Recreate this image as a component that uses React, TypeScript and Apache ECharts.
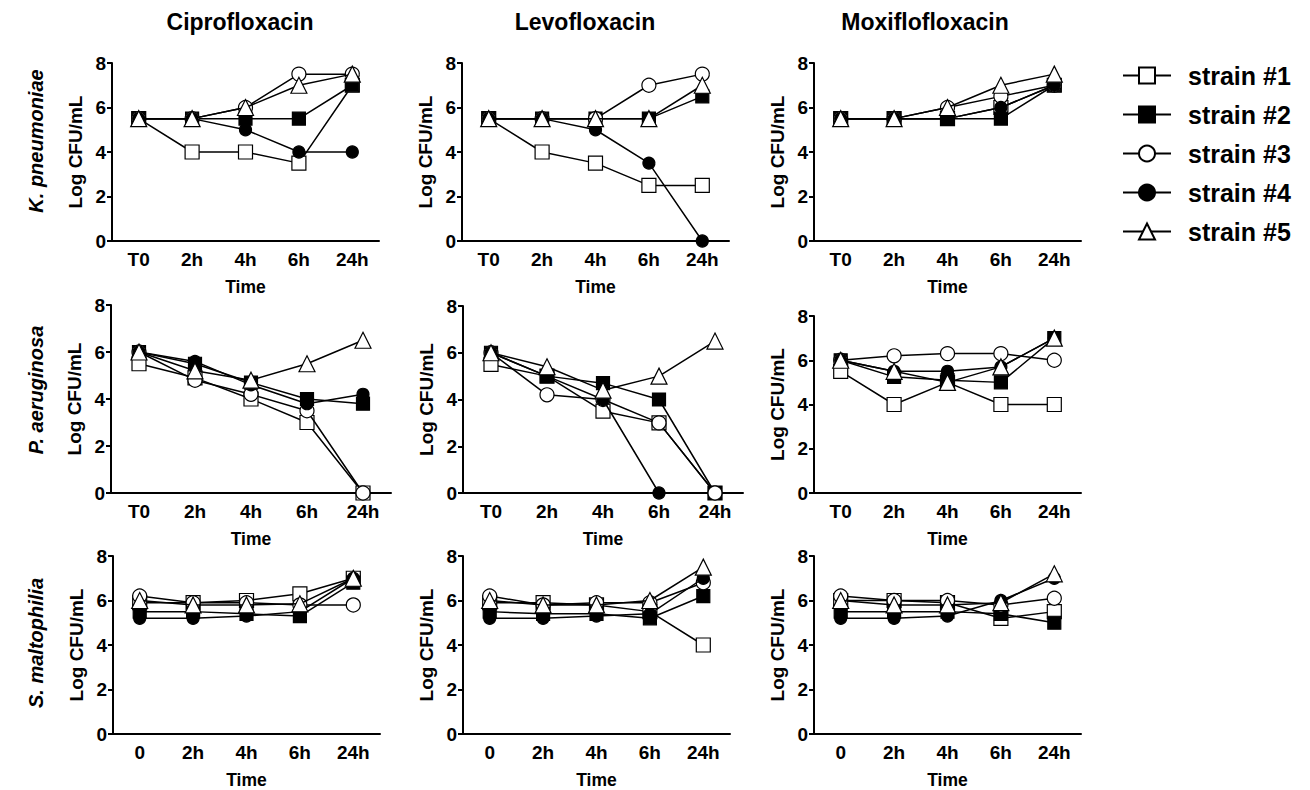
import React, { useEffect, useRef } from "react";
import * as echarts from "echarts";

const drugs = ["Ciprofloxacin", "Levofloxacin", "Moxiflofloxacin"];
const species = ["K. pneumoniae", "P. aeruginosa", "S. maltophilia"];
const strains = ["strain #1", "strain #2", "strain #3", "strain #4", "strain #5"];
const timesT0 = ["T0", "2h", "4h", "6h", "24h"];
const times0 = ["0", "2h", "4h", "6h", "24h"];

// K. pneumoniae
const kpCipro = [
  [5.5, 4, 4, 3.5, 7],
  [5.5, 5.5, 5.5, 5.5, 7],
  [5.5, 5.5, 6, 7.5, 7.5],
  [5.5, 5.5, 5, 4, 4],
  [5.5, 5.5, 6, 7, 7.5],
];
const kpLevo = [
  [5.5, 4, 3.5, 2.5, 2.5],
  [5.5, 5.5, 5.5, 5.5, 6.5],
  [5.5, 5.5, 5.5, 7, 7.5],
  [5.5, 5.5, 5, 3.5, 0],
  [5.5, 5.5, 5.5, 5.5, 7],
];
const kpMoxi = [
  [5.5, 5.5, 5.5, 6, 7],
  [5.5, 5.5, 5.5, 5.5, 7],
  [5.5, 5.5, 6, 6.5, 7],
  [5.5, 5.5, 5.5, 6, 7],
  [5.5, 5.5, 6, 7, 7.5],
];
// P. aeruginosa
const paCipro = [
  [5.5, 4.9, 4.0, 3.0, 0],
  [6, 5.5, 4.7, 4.0, 3.8],
  [6, 4.8, 4.2, 3.5, 0],
  [6, 5.6, 4.6, 3.8, 4.2],
  [6, 5.2, 4.8, 5.5, 6.5],
];
const paLevo = [
  [5.5, 5.0, 3.5, 3.0, 0],
  [6, 5.0, 4.7, 4.0, 0],
  [6, 4.2, 4.0, 3.0, 0],
  [6, 5.0, 4.0, 0, null],
  [6, 5.4, 4.4, 5.0, 6.5],
];
const paMoxi = [
  [5.5, 4, 5, 4, 4],
  [6, 5.25, 5.1, 5.0, 7],
  [6, 6.2, 6.3, 6.3, 6.0],
  [6, 5.5, 5.5, 5.7, 7],
  [6, 5.5, 5.0, 5.7, 7],
];
// S. maltophilia
const smCipro = [
  [5.9, 5.9, 6.0, 6.3, 7.0],
  [5.5, 5.5, 5.4, 5.3, 6.8],
  [6.2, 5.9, 5.9, 5.8, 5.8],
  [5.2, 5.2, 5.3, 5.5, 7.0],
  [6.0, 5.8, 5.8, 5.85, 7.0],
];
const smLevo = [
  [5.9, 5.9, 5.8, 5.5, 4.0],
  [5.5, 5.4, 5.4, 5.2, 6.2],
  [6.2, 5.8, 5.9, 5.9, 6.8],
  [5.2, 5.2, 5.3, 5.4, 7.0],
  [6.0, 5.8, 5.8, 6.0, 7.5],
];
const smMoxi = [
  [6.0, 6.0, 5.9, 5.2, 5.5],
  [5.5, 5.5, 5.5, 5.4, 5.0],
  [6.2, 6.0, 6.0, 5.8, 6.1],
  [5.2, 5.2, 5.3, 6.0, 7.0],
  [6.0, 5.8, 5.8, 5.9, 7.2],
];

const panels = [
  [kpCipro, kpLevo, kpMoxi],
  [paCipro, paLevo, paMoxi],
  [smCipro, smLevo, smMoxi],
];

const FONT = "'Liberation Sans', Arial, sans-serif";

const grids = [
  [
    { left: 112, top: 63, width: 267, height: 178 },
    { left: 462, top: 63, width: 267, height: 178 },
    { left: 814, top: 63, width: 267, height: 178 },
  ],
  [
    { left: 111, top: 305, width: 280, height: 188 },
    { left: 463, top: 306, width: 280, height: 187 },
    { left: 814, top: 316, width: 267, height: 177 },
  ],
  [
    { left: 113, top: 556, width: 267, height: 178 },
    { left: 463, top: 556, width: 267, height: 178 },
    { left: 814, top: 556, width: 267, height: 178 },
  ],
];

const markers = [
  { symbol: "rect", size: 14, fill: "#fff" },
  { symbol: "rect", size: 13, fill: "#000" },
  { symbol: "circle", size: 14, fill: "#fff" },
  { symbol: "circle", size: 12, fill: "#000" },
  { symbol: "triangle", size: 16, fill: "#fff" },
];

export default function App() {
  const ref = useRef<HTMLDivElement>(null);
  useEffect(() => {
    if (!ref.current) return;
    const chart = echarts.init(ref.current, null, { renderer: "svg" });
    const grid: any[] = [];
    const xAxis: any[] = [];
    const yAxis: any[] = [];
    const series: any[] = [];
    let idx = 0;
    for (let r = 0; r < 3; r++) {
      for (let c = 0; c < 3; c++) {
        grid.push({ ...grids[r][c], containLabel: false });
        xAxis.push({
          type: "category",
          gridIndex: idx,
          data: r === 2 ? times0 : timesT0,
          boundaryGap: true,
          name: "Time",
          nameLocation: "middle",
          nameGap: 37,
          nameTextStyle: { fontFamily: FONT, fontWeight: "bold", fontSize: 17.5, color: "#000" },
          axisLine: { lineStyle: { color: "#000", width: 2 } },
          axisTick: { alignWithLabel: true, length: 5, lineStyle: { color: "#000", width: 2 } },
          axisLabel: { fontFamily: FONT, fontWeight: "bold", fontSize: 19, color: "#000", margin: 9, interval: 0 },
          splitLine: { show: false },
        });
        yAxis.push({
          type: "value",
          gridIndex: idx,
          min: 0,
          max: 8,
          interval: 2,
          name: "Log CFU/mL",
          nameLocation: "middle",
          nameGap: 27,
          nameTextStyle: { fontFamily: FONT, fontWeight: "bold", fontSize: 19, color: "#000" },
          axisLine: { show: true, lineStyle: { color: "#000", width: 2 } },
          axisTick: { show: true, length: 5, lineStyle: { color: "#000", width: 2 } },
          axisLabel: { fontFamily: FONT, fontWeight: "bold", fontSize: 19, color: "#000", margin: 6 },
          splitLine: { show: false },
        });
        const panel = panels[r][c];
        for (let s = 0; s < 5; s++) {
          const m = markers[s];
          series.push({
            type: "line",
            name: strains[s],
            xAxisIndex: idx,
            yAxisIndex: idx,
            data: panel[s],
            symbol: m.symbol,
            symbolSize: m.size,
            showSymbol: true,
            connectNulls: false,
            lineStyle: { color: "#000", width: 1.5 },
            itemStyle: { color: m.fill, borderColor: "#000", borderWidth: 1.2 },
            emphasis: { disabled: true },
            z: 2 + s,
          });
        }
        idx++;
      }
    }
    const graphic: any[] = [];
    const titleX = [240, 585, 925];
    drugs.forEach((d, i) =>
      graphic.push({
        type: "text",
        x: titleX[i],
        y: 22,
        style: { text: d, fontFamily: FONT, fontWeight: "bold", fontSize: 23, fill: "#000", align: "center", verticalAlign: "middle" },
      })
    );
    const rowY = [141, 390, 643];
    species.forEach((sp, i) =>
      graphic.push({
        type: "text",
        x: 36,
        y: rowY[i],
        rotation: Math.PI / 2,
        style: { text: sp, fontFamily: FONT, fontWeight: "bold", fontStyle: "italic", fontSize: 20, fill: "#000", align: "center", verticalAlign: "middle" },
      })
    );
    chart.setOption({
      animation: false,
      backgroundColor: "#fff",
      grid,
      xAxis,
      yAxis,
      series,
      graphic,
      legend: {
        data: strains,
        orient: "vertical",
        left: 1117,
        top: 58,
        itemWidth: 48,
        itemHeight: 20,
        itemGap: 14,
        selectedMode: false,
        textStyle: { fontFamily: FONT, fontWeight: "bold", fontSize: 25, color: "#000", padding: [0, 0, 0, 12] },
      },
    });
    return () => chart.dispose();
  }, []);
  return <div ref={ref} style={{ position: "fixed", left: 0, top: 0, width: 1310, height: 790 }} />;
}
